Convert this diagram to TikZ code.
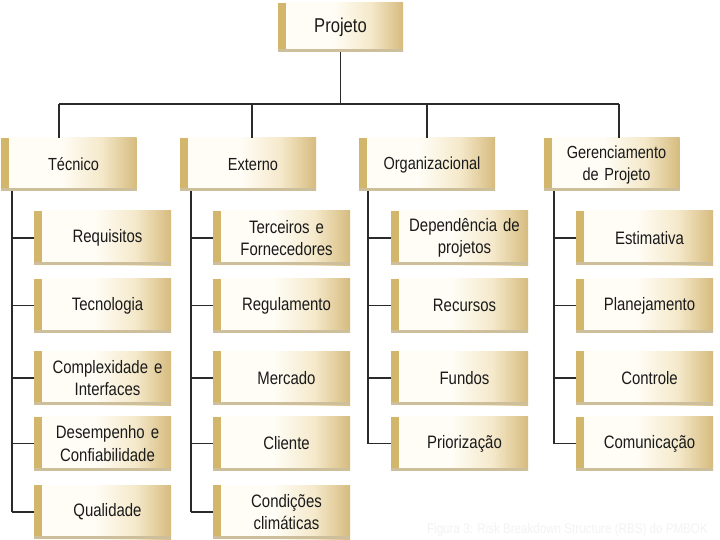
\documentclass[tikz,border=0pt]{standalone}
\usepackage{fontspec}
\setmainfont{Liberation Sans}[FakeStretch=0.83]
\definecolor{cA}{HTML}{FFFDF6}
\definecolor{cB}{HTML}{F5E9CB}
\definecolor{cC}{HTML}{D6BB7E}
\definecolor{stripc}{HTML}{D2B66C}
\definecolor{shadc}{HTML}{CDBE9C}
\definecolor{txt}{HTML}{1A1A1A}
\definecolor{linec}{HTML}{2A2A2A}
\definecolor{capc}{HTML}{F3F3F3}
\pgfdeclarehorizontalshading{boxsh}{100bp}{color(0bp)=(cA); color(25bp)=(cA); color(47bp)=(cA); color(62bp)=(cB); color(75bp)=(cC); color(100bp)=(cC)}
\newcommand\myind{\hspace*{10pt}}
\tikzset{
  boxbase/.style={shade, shading=boxsh, inner ysep=0pt, inner xsep=6pt, align=center, text=txt,
    path picture={
      \fill[stripc] (path picture bounding box.south west) rectangle ([xshift=8pt]path picture bounding box.north west);
      \fill[shadc] (path picture bounding box.south west) rectangle ([yshift=3pt]path picture bounding box.south east);
    }},
  topbox/.style={boxbase, minimum width=125pt, minimum height=49pt, text width=113pt, font=\fontsize{20}{24}\selectfont},
  catbox/.style={boxbase, minimum width=136pt, minimum height=53pt, text width=124pt, font=\fontsize{17.5}{22}\selectfont},
  childbox/.style={boxbase, minimum width=137pt, minimum height=54pt, text width=125pt, font=\fontsize{18}{22.5}\selectfont},
  conn/.style={draw=linec, line width=1.5pt}
}
\begin{document}
\begin{tikzpicture}[x=1pt,y=-1pt]
\useasboundingbox[fill=white] (0,0) rectangle (720,540);
% top
\node[topbox] (proj) at (340.5,27.5) {Projeto};
% categories
\node[catbox] (tec) at (68.5,164.5) {\myind Técnico};
\node[catbox] (ext) at (248,164.5) {\myind Externo};
\node[catbox] (org) at (427,164.5) {\myind Organizacional};
\node[catbox] (ger) at (611.5,164.5) {\myind Gerenciamento\\\myind de Projeto};
% Tecnico children
\node[childbox] (t1) at (102.5,238) {\myind Requisitos};
\node[childbox] (t2) at (102.5,305.5) {\myind Tecnologia};
\node[childbox] (t3) at (102.5,378) {\myind Complexidade e\\\myind Interfaces};
\node[childbox] (t4) at (102.5,443.5) {\myind Desempenho e\\\myind Confiabilidade};
\node[childbox] (t5) at (102.5,512) {\myind Qualidade};
% Externo children
\node[childbox] (e1) at (281.5,238) {\myind Terceiros e\\\myind Fornecedores};
\node[childbox] (e2) at (281.5,305.5) {\myind Regulamento};
\node[childbox] (e3) at (281.5,378) {\myind Mercado};
\node[childbox] (e4) at (281.5,443.5) {\myind Cliente};
\node[childbox] (e5) at (281.5,512) {\myind Condições\\\myind climáticas};
% Organizacional children
\node[childbox] (o1) at (459.5,238) {\myind Dependência de\\\myind projetos};
\node[childbox] (o2) at (459.5,305.5) {\myind Recursos};
\node[childbox] (o3) at (459.5,378) {\myind Fundos};
\node[childbox] (o4) at (459.5,443.5) {\myind Priorização};
% Gerenciamento children
\node[childbox] (g1) at (644.5,238) {\myind Estimativa};
\node[childbox] (g2) at (644.5,305.5) {\myind Planejamento};
\node[childbox] (g3) at (644.5,378) {\myind Controle};
\node[childbox] (g4) at (644.5,443.5) {\myind Comunicação};
% bus
\coordinate (b1) at (59,104);
\coordinate (b2) at (252,104);
\coordinate (b3) at (427,104);
\coordinate (b4) at (619,104);
\draw[conn] (proj.south) -- (proj.south |- b1);
\draw[conn] (b1) -- (b4);
\draw[conn] (b1) -- (b1 |- tec.north);
\draw[conn] (b2) -- (b2 |- ext.north);
\draw[conn] (b3) -- (b3 |- org.north);
\draw[conn] (b4) -- (b4 |- ger.north);
% child spines
\coordinate (vt) at (12,0);
\coordinate (ve) at (191,0);
\coordinate (vo) at (368,0);
\coordinate (vg) at (554,0);
\draw[conn] (vt |- tec.south) -- (vt |- t5.west);
\draw[conn] (ve |- ext.south) -- (ve |- e5.west);
\draw[conn] (vo |- org.south) -- (vo |- o4.west);
\draw[conn] (vg |- ger.south) -- (vg |- g4.west);
\foreach \n in {t1,t2,t3,t4,t5} \draw[conn] (vt |- \n.west) -- (\n.west);
\foreach \n in {e1,e2,e3,e4,e5} \draw[conn] (ve |- \n.west) -- (\n.west);
\foreach \n in {o1,o2,o3,o4} \draw[conn] (vo |- \n.west) -- (\n.west);
\foreach \n in {g1,g2,g3,g4} \draw[conn] (vg |- \n.west) -- (\n.west);
% caption
\node[anchor=base east, text=capc, font=\fontsize{14}{16}\selectfont, inner sep=0pt] (cap) at (708,533) {Figura 3: Risk Breakdown Structure (RBS) do PMBOK};
\end{tikzpicture}
\end{document}
